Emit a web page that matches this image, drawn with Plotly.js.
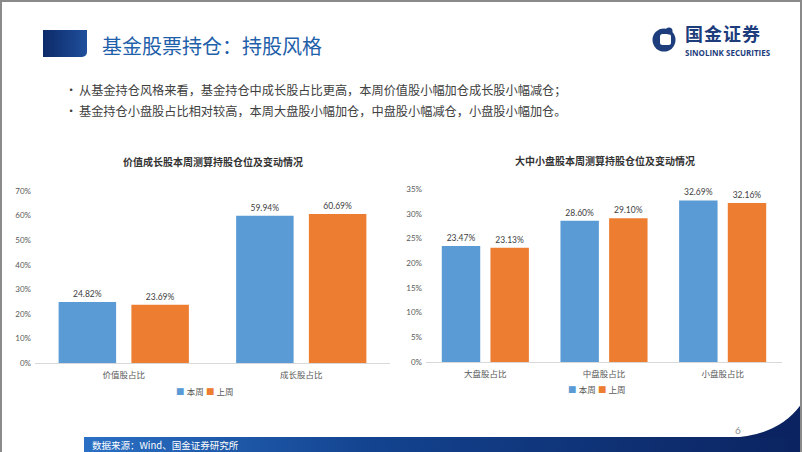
<!DOCTYPE html>
<html>
<head>
<meta charset="utf-8">
<script src="https://cdn.plot.ly/plotly-3.0.1.min.js"></script>
<style>
  html, body { margin: 0; padding: 0; background: #fff; }
  #slide {
    position: relative; width: 802px; height: 452px; overflow: hidden;
    box-sizing: border-box; border: 2px solid #8a8a8a; border-bottom: none;
    font-family: "Noto Sans CJK SC", sans-serif; background: #fff;
  }
  .abs { position: absolute; white-space: nowrap; }
  #mark {
    left: 41px; top: 28px; width: 44px; height: 27px; border-bottom-right-radius: 5px;
    background: linear-gradient(to right, #0c2a68, #1f4f9c);
  }
  #title { left: 100px; top: 30px; font-size: 20px; line-height: 28px; color: #1f60aa; }
  .bullet { left: 63px; font-size: 12.2px; line-height: 16px; color: #404040; }
  .bullet span { display: inline-block; width: 14px; }
  #logoCn { left: 683px; top: 19px; font-size: 18px; line-height: 24px; font-weight: bold; color: #1d3d7c; letter-spacing: 1px; }
  #logoEn { left: 683px; top: 45px; font-size: 8px; line-height: 12px; font-weight: bold; color: #1d3d7c; font-family: "Open Sans", sans-serif; }
  #footer {
    left: 82px; top: 435px; width: 720px; height: 17px;
    background: linear-gradient(to right, #2a70c4 0%, #13438f 40%, #0b2360 100%);
  }
  #source { left: 90px; top: 436px; font-size: 9.5px; line-height: 15px; color: #fff; }
  #page { left: 733px; top: 422px; font-size: 10px; color: #8c8c8c; font-family: Lato, sans-serif; }
  #chart { position: absolute; left: -2px; top: -2px; width: 802px; height: 452px; }
</style>
</head>
<body>
<div id="slide">
  <div id="mark" class="abs"></div>
  <div id="title" class="abs">基金股票持仓：持股风格</div>
  <svg class="abs" style="left:647px;top:23px" width="32" height="30">
    <circle cx="15" cy="15" r="11.5" fill="#1d3d7c"/>
    <rect x="11" y="9" width="11" height="11" rx="2.5" fill="#fff"/>
    <circle cx="20" cy="6" r="3.5" fill="#1d3d7c"/>
  </svg>
  <div id="logoCn" class="abs">国金证券</div>
  <div id="logoEn" class="abs">SINOLINK SECURITIES</div>
  <div class="abs bullet" style="top:80px"><span>•</span>从基金持仓风格来看，基金持仓中成长股占比更高，本周价值股小幅加仓成长股小幅减仓；</div>
  <div class="abs bullet" style="top:101px"><span>•</span>基金持仓小盘股占比相对较高，本周大盘股小幅加仓，中盘股小幅减仓，小盘股小幅加仓。</div>
  <div id="footer" class="abs"></div>
  <svg class="abs" style="left:0;top:0" width="802" height="452">
    <path d="M 726 436 Q 778 434 800 401 L 800 436 Z" fill="#0b2360"/>
  </svg>
  <div id="source" class="abs">数据来源：Wind、国金证券研究所</div>
  <div id="page" class="abs">6</div>
  <div id="chart"></div>
</div>
<script>
// 价值 / 成长
const styleCats = ['价值股占比', '成长股占比'];
const styleThisWeek = [0.2482, 0.5994];
const styleLastWeek = [0.2369, 0.6069];

// 大 / 中 / 小盘
const sizeCats = ['大盘股占比', '中盘股占比', '小盘股占比'];
const sizeThisWeek = [0.2347, 0.2860, 0.3269];
const sizeLastWeek = [0.2313, 0.2910, 0.3216];

const seriesNames = ['本周', '上周'];
const BLUE = '#5b9bd5';
const ORANGE = '#ed7d31';
const FONT = 'Lato, "Noto Sans CJK SC", sans-serif';
const W = 802, H = 452;

// px -> paper
const px = v => v / W;
const py = v => 1 - v / H;

const barTrace = (x, y, name, color, xa, ya) => ({
  type: 'bar', x, y, name, xaxis: xa, yaxis: ya,
  marker: { color },
  texttemplate: '%{y:.2%}', textposition: 'outside', cliponaxis: false,
  textfont: { size: 8.5, color: '#404040' },
  hoverinfo: 'skip'
});

const data = [
  barTrace(styleCats, styleThisWeek, seriesNames[0], BLUE, 'x', 'y'),
  barTrace(styleCats, styleLastWeek, seriesNames[1], ORANGE, 'x', 'y'),
  barTrace(sizeCats, sizeThisWeek, seriesNames[0], BLUE, 'x2', 'y2'),
  barTrace(sizeCats, sizeLastWeek, seriesNames[1], ORANGE, 'x2', 'y2')
];

const xBase = {
  showline: true, linecolor: '#d9d9d9', linewidth: 1, ticks: '',
  showgrid: false, zeroline: false, ticklabelstandoff: 4,
  tickfont: { size: 8.5, color: '#595959' }
};
const yBase = {
  showgrid: false, zeroline: false, showline: false, ticks: '',
  tickformat: '.0%', ticklabelstandoff: 3,
  tickfont: { size: 8, color: '#595959' }
};

const legendText = `<span style="color:${BLUE}">■</span> ${seriesNames[0]} <span style="color:${ORANGE}">■</span> ${seriesNames[1]}`;

const note = (text, x, y, size, color) => ({
  text, x: px(x), y: py(y), xref: 'paper', yref: 'paper',
  xanchor: 'center', yanchor: 'middle', showarrow: false,
  font: { size, color, family: FONT }
});

const layout = {
  width: W, height: H,
  margin: { l: 0, r: 0, t: 0, b: 0 },
  paper_bgcolor: 'rgba(0,0,0,0)', plot_bgcolor: 'rgba(0,0,0,0)',
  font: { family: FONT, size: 9, color: '#595959' },
  showlegend: false,
  barmode: 'group', bargap: 0.18, bargroupgap: 0.21,
  xaxis: { ...xBase, domain: [px(35), px(390)], anchor: 'y' },
  yaxis: { ...yBase, domain: [py(363), py(191)], range: [0, 0.7], dtick: 0.1, anchor: 'x' },
  xaxis2: { ...xBase, domain: [px(426), px(782)], anchor: 'y2' },
  yaxis2: { ...yBase, domain: [py(362), py(189)], range: [0, 0.35], dtick: 0.05, anchor: 'x2' },
  annotations: [
    note('<b>价值成长股本周测算持股仓位及变动情况</b>', 213, 162, 10, '#333333'),
    note('<b>大中小盘股本周测算持股仓位及变动情况</b>', 605, 161, 10, '#333333'),
    note(legendText, 205, 392, 8.5, '#595959'),
    note(legendText, 597, 390, 8.5, '#595959')
  ]
};

Plotly.newPlot('chart', data, layout, { displayModeBar: false, staticPlot: true });
</script>
</body>
</html>
